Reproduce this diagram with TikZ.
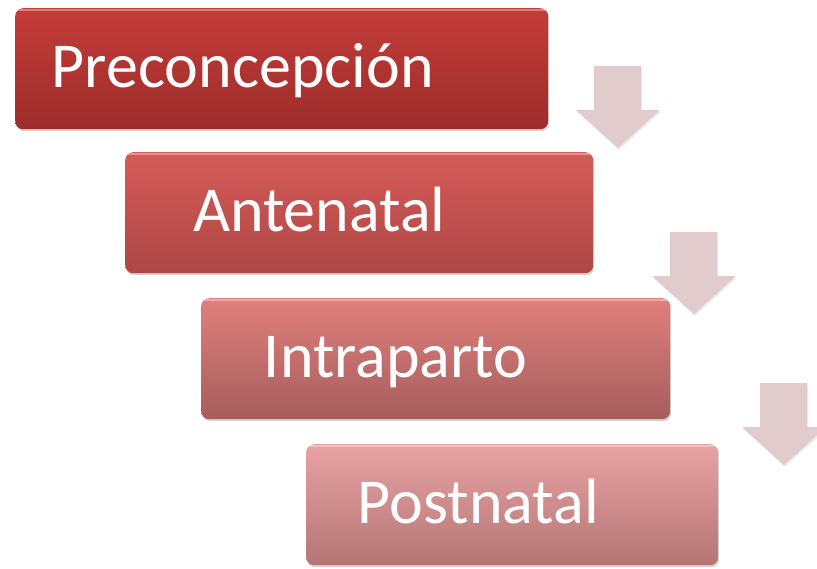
\documentclass[tikz,border=0pt]{standalone}
\usepackage{fontspec}
\setmainfont{Carlito}
\usetikzlibrary{shadows}
\definecolor{preTop}{HTML}{C43C38}
\definecolor{preBot}{HTML}{9C2D2B}
\definecolor{antTop}{HTML}{D65B58}
\definecolor{antBot}{HTML}{AD4745}
\definecolor{intTop}{HTML}{E17F7D}
\definecolor{intBot}{HTML}{A55E5C}
\definecolor{posTop}{HTML}{E8A3A3}
\definecolor{posBot}{HTML}{B57575}
\definecolor{arrowFill}{HTML}{E2CBCC}
\tikzset{
    stagebox/.style={anchor=north west,rounded corners=8pt,
        drop shadow={opacity=0.35,shadow xshift=1pt,shadow yshift=-2pt},
        minimum height=121pt,inner sep=0pt,
        path picture={\draw[white,opacity=0.35,line width=1.5pt]
            ([yshift=-2pt]path picture bounding box.north west) --
            ([yshift=-2pt]path picture bounding box.north east);}},
    stagetext/.style={anchor=base,text=white,font=\fontsize{64}{76}\selectfont},
    stagearrow/.style={fill=arrowFill,
        drop shadow={opacity=0.15,shadow xshift=1pt,shadow yshift=-2pt}},
    }
\begin{document}
\begin{tikzpicture}[x=1pt,y=-1pt]
	\useasboundingbox (0,0) rectangle (817,568);
	% stages
	\node[stagebox,minimum width=533pt,top color=preTop,bottom color=preBot] (pre) at (15,8) {};
	\node[stagebox,minimum width=468pt,top color=antTop,bottom color=antBot] (ant) at (125,152) {};
	\node[stagebox,minimum width=469pt,top color=intTop,bottom color=intBot] (int) at (201,298) {};
	\node[stagebox,minimum width=412pt,top color=posTop,bottom color=posBot] (pos) at (306,444) {};
	\node[stagetext] (pretext) at ([xshift=-39pt,yshift=-19pt]pre.center) {Preconcepción};
	\node[stagetext] (anttext) at ([xshift=-40pt,yshift=-19pt]ant.center) {Antenatal};
	\node[stagetext] (inttext) at ([xshift=-40pt,yshift=-19pt]int.center) {Intraparto};
	\node[stagetext] (postext) at ([xshift=-34pt,yshift=-19pt]pos.center) {Postnatal};
	% arrows between stages
	\coordinate (arr1) at (576,66);
	\coordinate (arr2) at (652,232);
	\coordinate (arr3) at (742,383);
	\foreach \a in {arr1,arr2,arr3}
		\path[stagearrow] ([xshift=18pt]\a) -- ([xshift=65pt]\a)
			-- ([xshift=65pt,yshift=-44pt]\a) -- ([xshift=84pt,yshift=-44pt]\a)
			-- ([xshift=42pt,yshift=-82pt]\a) -- ([yshift=-44pt]\a)
			-- ([xshift=18pt,yshift=-44pt]\a) -- cycle;
\end{tikzpicture}
\end{document}
